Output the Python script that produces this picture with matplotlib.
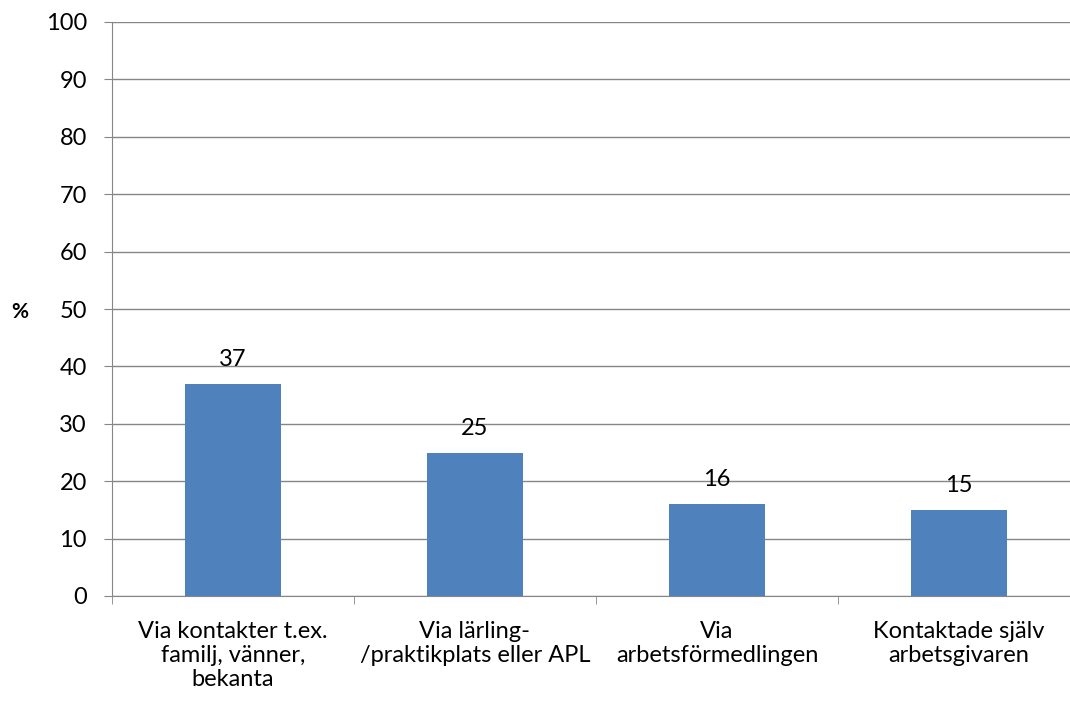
import matplotlib.pyplot as plt
from matplotlib.ticker import FixedLocator, NullFormatter

plt.rcParams['font.family'] = ['Lato', 'DejaVu Sans']

# data
categories = [
    "Via kontakter t.ex.\nfamilj, vänner,\nbekanta",
    "Via lärling-\n/praktikplats eller APL",
    "Via\narbetsförmedlingen",
    "Kontaktade själv\narbetsgivaren",
]
values = [37, 25, 16, 15]
yticks = [0, 10, 20, 30, 40, 50, 60, 70, 80, 90, 100]

bar_color = "#4f81bd"
grid_color = "#868686"
fs = 17

fig = plt.figure(figsize=(10.7, 7.03), dpi=100)
ax = fig.add_axes([112 / 1070, 1 - 596 / 703, 968 / 1070, 574 / 703])

x = list(range(len(categories)))
ax.bar(x, values, width=0.4, color=bar_color, zorder=3)

for xi, v in zip(x, values):
    ax.annotate(str(v), (xi, v), xytext=(0, 10), textcoords="offset points",
                ha="center", va="bottom", fontsize=fs)

ax.set_xlim(-0.5, len(categories) - 0.5)
ax.set_ylim(0, 100)
ax.set_yticks(yticks)
ax.tick_params(axis="y", labelsize=fs, length=6, color=grid_color, pad=12)
ax.yaxis.grid(True, color=grid_color, linewidth=1, zorder=0)

# category labels centred, ticks on boundaries
ax.set_xticks(x)
ax.set_xticklabels(categories, fontsize=fs, linespacing=1.18)
ax.tick_params(axis="x", length=0, pad=18)
ax.xaxis.set_minor_locator(FixedLocator([i - 0.5 for i in range(len(categories) + 1)]))
ax.xaxis.set_minor_formatter(NullFormatter())
ax.tick_params(axis="x", which="minor", length=6, color=grid_color)

for s in ["top", "right"]:
    ax.spines[s].set_visible(False)
ax.spines["left"].set_color(grid_color)
ax.spines["bottom"].set_color(grid_color)

fig.text(20 / 1070, 1 - 312 / 703, "%", fontsize=15, fontweight="bold", ha="center", va="center")

fig.savefig("out.png", dpi=100)
